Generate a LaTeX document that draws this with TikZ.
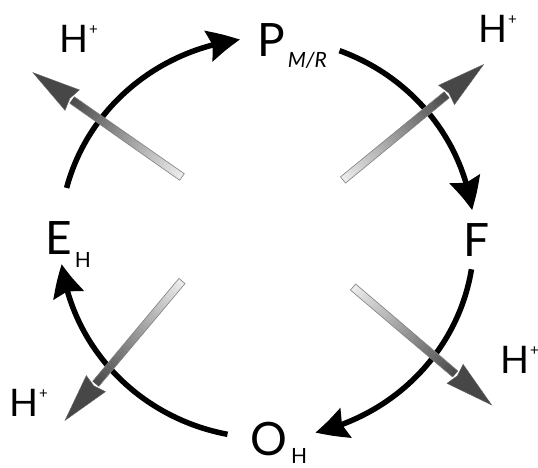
\documentclass[tikz,border=0pt]{standalone}
\usepackage{fontspec}
\setmainfont{Lato}
\usetikzlibrary{arrows.meta,bending,calc}
\newcommand\bigfont{\fontsize{46}{46}\selectfont}
\newcommand\hfont{\fontsize{38}{38}\selectfont}
\newcommand\subfont{\fontsize{21}{21}\selectfont}
\newcommand\plusfont{\fontsize{15}{15}\selectfont}
\newcommand\hplus{H\hspace{1pt}\raisebox{18pt}{\plusfont+}}
\newcommand\protonarrow[2]{%
  \begin{scope}[shift={(#1)}, rotate=#2]
    \foreach \i in {0,...,29}{%
      \pgfmathsetmacro\pc{8+62*\i/29}%
      \pgfmathsetmacro\xa{\i*134/30}%
      \pgfmathsetmacro\xb{(\i+1)*134/30+0.4}%
      \fill[black!\pc] (\xa,-4) -- (\xb,-4) -- (\xb,4) -- (\xa,4) -- cycle;
    }
    \draw[shaftline] (134,-4) -- (0,-4) -- (0,4) -- (134,4);
    \fill[headfill] (134,-12.5) -- (182,0) -- (134,12.5) -- (137,0) -- cycle;
    \coordinate (#1tip) at (182,0);
  \end{scope}}
\begin{document}
\begin{tikzpicture}[x=1pt,y=1pt,
  lbl/.style={inner sep=0pt, anchor=base west, font=\bigfont},
  hlbl/.style={inner sep=0pt, anchor=base west, font=\hfont},
  cyc/.style={line width=5.5pt, -{Stealth[length=32pt,width=31pt,inset=4pt,bend]}},
  shaftline/.style={draw=black!50, line width=0.6pt},
  headfill/.style={fill=black!72, draw=black!60, line width=0.4pt},
]
\useasboundingbox (0,0) rectangle (538,468);
\fill[white] (0,0) rectangle (538,468);

% labels
\node[lbl] (P) at (257,411) {P\hspace{3pt}\raisebox{-11pt}{\subfont\itshape M/R}};
\node[lbl] (F) at (463,211) {F};
\node[lbl] (E) at (45,213) {E\hspace{3pt}\raisebox{-13pt}{\subfont H}};
\node[lbl] (O) at (250,12) {O\hspace{4pt}\raisebox{-8pt}{\subfont H}};

\node[hlbl] (h1) at (59,415) {\hplus};
\node[hlbl] (h2) at (478,425) {\hplus};
\node[hlbl] (h3) at (9,51) {\hplus};
\node[hlbl] (h4) at (500,94) {\hplus};

% cycle arcs
\coordinate (c) at (267,230);
\coordinate (a1) at ($(c)+(165.5:207 and 200)$);
\coordinate (a2) at ($(c)+(69.5:207 and 200)$);
\coordinate (a3) at ($(c)+(-9:207 and 200)$);
\coordinate (a4) at ($(c)+(-101:207 and 200)$);
\draw[cyc] (a1) arc[start angle=165.5, end angle=97.5, x radius=207pt, y radius=200pt];
\draw[cyc] (a2) arc[start angle=69.5, end angle=8, x radius=207pt, y radius=200pt];
\draw[cyc] (a3) arc[start angle=-9, end angle=-76.5, x radius=207pt, y radius=200pt];
\draw[cyc] (a4) arc[start angle=-101, end angle=-172.5, x radius=207pt, y radius=200pt];

% proton arrows
\coordinate (ptl) at (182,291);
\coordinate (ptr) at (343,288);
\coordinate (pbl) at (182,187);
\coordinate (pbr) at (353,181);
\protonarrow{ptl}{145}
\protonarrow{ptr}{39.4}
\protonarrow{pbl}{230}
\protonarrow{pbr}{-40.4}
\end{tikzpicture}
\end{document}
